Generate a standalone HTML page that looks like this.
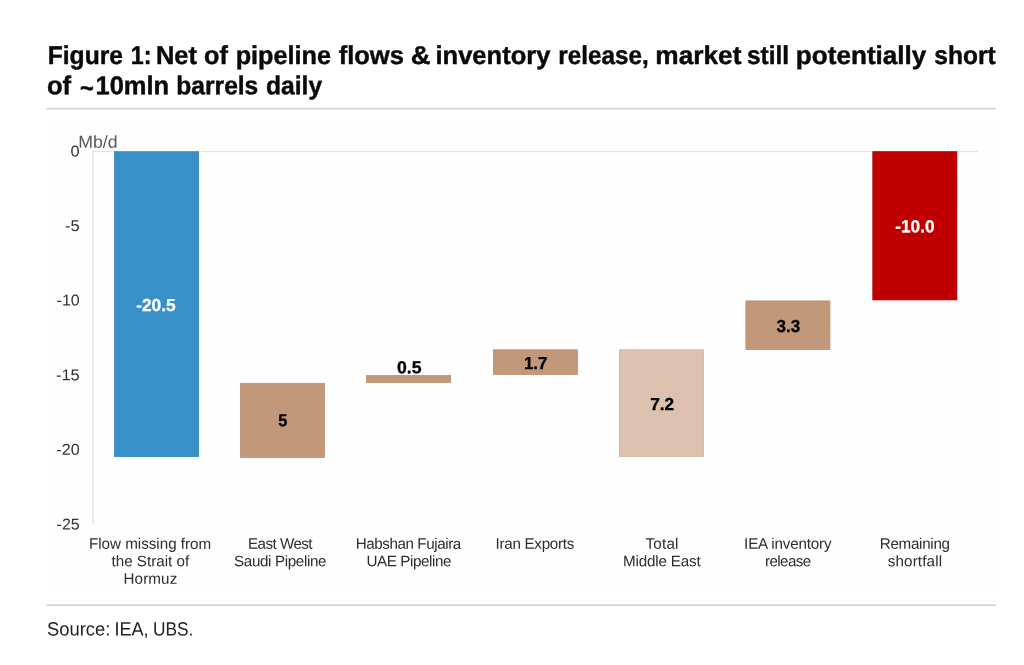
<!DOCTYPE html>
<html lang="en"><head><meta charset="utf-8"><title>Figure 1</title>
<style>html,body{margin:0;padding:0;background:#fff}svg{display:block}text{font-family:'Liberation Sans',sans-serif;white-space:pre}</style>
</head><body>
<svg width="1024" height="665" viewBox="0 0 1024 665">
<rect x="0" y="0" width="1024" height="665" fill="#ffffff"/>
<rect x="47" y="123.2" width="949" height="466.6" fill="#fefefe"/>
<rect x="46.3" y="107.85" width="949.7" height="1.6" fill="#d1d1d1"/>
<rect x="46.3" y="604.45" width="949.7" height="1.6" fill="#d1d1d1"/>
<rect x="92.2" y="151.05" width="885.8" height="1.1" fill="#e4e4e4"/>
<rect x="92.2" y="151.1" width="1.5" height="373.6" fill="#e4e4e4"/>
<rect x="114.40" y="151.70" width="84.10" height="304.90" fill="#3791c8" stroke="#3488ba" stroke-width="0.8"/>
<rect x="240.50" y="383.30" width="84.00" height="74.20" fill="#c1997a" stroke="#b78f71" stroke-width="0.8"/>
<rect x="366.50" y="375.50" width="84.10" height="7.00" fill="#c1997a" stroke="#b78f71" stroke-width="0.8"/>
<rect x="493.40" y="349.80" width="84.10" height="24.70" fill="#c1997a" stroke="#b78f71" stroke-width="0.8"/>
<rect x="619.50" y="349.80" width="84.00" height="106.70" fill="#dbc1ae" stroke="#d0b5a1" stroke-width="0.8"/>
<rect x="745.90" y="300.90" width="84.00" height="48.60" fill="#c1997a" stroke="#b78f71" stroke-width="0.8"/>
<rect x="872.80" y="151.70" width="84.10" height="148.20" fill="#c00000" stroke="#b60000" stroke-width="0.8"/>
<text transform="matrix(0.9555,0.0008,0,1,47.69,64.00)" font-size="25.8" font-weight="bold" fill="#0a0a0a" stroke="#0a0a0a" stroke-width="0.45" stroke-linejoin="round">Figure </text>
<text transform="matrix(0.9013,0.0008,0,1,130.74,64.00)" font-size="25.8" font-weight="bold" fill="#0a0a0a" stroke="#0a0a0a" stroke-width="0.45" stroke-linejoin="round">1: </text>
<text transform="matrix(0.9892,0.0008,0,1,155.94,64.00)" font-size="25.8" font-weight="bold" fill="#0a0a0a" stroke="#0a0a0a" stroke-width="0.45" stroke-linejoin="round">Net </text>
<text transform="matrix(0.9787,0.0008,0,1,204.06,64.00)" font-size="25.8" font-weight="bold" fill="#0a0a0a" stroke="#0a0a0a" stroke-width="0.45" stroke-linejoin="round">of </text>
<text transform="matrix(0.9796,0.0008,0,1,235.68,64.00)" font-size="25.8" font-weight="bold" fill="#0a0a0a" stroke="#0a0a0a" stroke-width="0.45" stroke-linejoin="round">pipeline </text>
<text transform="matrix(0.9913,0.0008,0,1,338.63,64.00)" font-size="25.8" font-weight="bold" fill="#0a0a0a" stroke="#0a0a0a" stroke-width="0.45" stroke-linejoin="round">flows </text>
<text transform="matrix(1.0574,0.0008,0,1,410.76,64.00)" font-size="25.8" font-weight="bold" fill="#0a0a0a" stroke="#0a0a0a" stroke-width="0.45" stroke-linejoin="round">&amp; </text>
<text transform="matrix(0.9896,0.0008,0,1,435.49,64.00)" font-size="25.8" font-weight="bold" fill="#0a0a0a" stroke="#0a0a0a" stroke-width="0.45" stroke-linejoin="round">inventory </text>
<text transform="matrix(0.9410,0.0008,0,1,558.30,64.00)" font-size="25.8" font-weight="bold" fill="#0a0a0a" stroke="#0a0a0a" stroke-width="0.45" stroke-linejoin="round">release, </text>
<text transform="matrix(1.0182,0.0008,0,1,655.29,64.00)" font-size="25.8" font-weight="bold" fill="#0a0a0a" stroke="#0a0a0a" stroke-width="0.45" stroke-linejoin="round">market </text>
<text transform="matrix(0.9483,0.0008,0,1,746.89,64.00)" font-size="25.8" font-weight="bold" fill="#0a0a0a" stroke="#0a0a0a" stroke-width="0.45" stroke-linejoin="round">still </text>
<text transform="matrix(1.0121,0.0008,0,1,795.86,64.00)" font-size="25.8" font-weight="bold" fill="#0a0a0a" stroke="#0a0a0a" stroke-width="0.45" stroke-linejoin="round">potentially </text>
<text transform="matrix(0.9510,0.0008,0,1,934.33,64.00)" font-size="25.8" font-weight="bold" fill="#0a0a0a" stroke="#0a0a0a" stroke-width="0.45" stroke-linejoin="round">short </text>
<text transform="matrix(0.9958,0.0008,0,1,46.90,94.20)" font-size="25.8" font-weight="bold" fill="#0a0a0a" stroke="#0a0a0a" stroke-width="0.45" stroke-linejoin="round">of </text>
<text transform="matrix(0.9175,0.0008,0,1,79.94,96.70)" font-size="25.8" font-weight="bold" fill="#0a0a0a" stroke="#0a0a0a" stroke-width="0.45" stroke-linejoin="round">~ </text>
<text transform="matrix(0.9889,0.0008,0,1,95.49,94.20)" font-size="25.8" font-weight="bold" fill="#0a0a0a" stroke="#0a0a0a" stroke-width="0.45" stroke-linejoin="round">10mln </text>
<text transform="matrix(0.9527,0.0008,0,1,176.33,94.20)" font-size="25.8" font-weight="bold" fill="#0a0a0a" stroke="#0a0a0a" stroke-width="0.45" stroke-linejoin="round">barrels </text>
<text transform="matrix(0.9553,0.0008,0,1,265.95,94.20)" font-size="25.8" font-weight="bold" fill="#0a0a0a" stroke="#0a0a0a" stroke-width="0.45" stroke-linejoin="round">daily </text>
<text transform="matrix(0.9579,0.0008,0,1,47.01,635.50)" font-size="19.2" fill="#222">Source: </text>
<text transform="matrix(0.9436,0.0008,0,1,114.40,635.50)" font-size="19.2" fill="#222">IEA, </text>
<text transform="matrix(0.9027,0.0008,0,1,152.94,635.50)" font-size="19.2" fill="#222">UBS. </text>
<text transform="matrix(1.0414,0.0008,0,1,70.50,156.40)" font-size="15.7" fill="#333">0</text>
<text transform="matrix(1.0533,0.0008,0,1,65.05,231.00)" font-size="15.7" fill="#333">-5</text>
<text transform="matrix(1.0275,0.0008,0,1,56.54,305.60)" font-size="15.7" fill="#333">-10</text>
<text transform="matrix(1.0533,0.0008,0,1,55.88,380.20)" font-size="15.7" fill="#333">-15</text>
<text transform="matrix(1.0287,0.0008,0,1,56.29,454.80)" font-size="15.7" fill="#333">-20</text>
<text transform="matrix(1.0206,0.0008,0,1,56.57,529.40)" font-size="15.7" fill="#333">-25</text>
<text transform="matrix(1.0197,0.0008,0,1,78.19,147.80)" font-size="17.4" fill="#585858">Mb/d</text>
<text transform="matrix(1.0000,0.0008,0,1,88.97,548.80)" font-size="15.2" fill="#2d2d2d" letter-spacing="-0.011">Flow missing from</text>
<text transform="matrix(1.0000,0.0008,0,1,111.52,566.30)" font-size="15.2" fill="#2d2d2d" letter-spacing="0.001">the Strait of</text>
<text transform="matrix(1.0000,0.0008,0,1,123.50,583.80)" font-size="15.2" fill="#2d2d2d" letter-spacing="0.121">Hormuz</text>
<text transform="matrix(1.0000,0.0008,0,1,247.97,548.80)" font-size="15.2" fill="#2d2d2d" letter-spacing="-0.540">East West</text>
<text transform="matrix(1.0000,0.0008,0,1,234.08,566.30)" font-size="15.2" fill="#2d2d2d" letter-spacing="-0.360">Saudi Pipeline</text>
<text transform="matrix(1.0000,0.0008,0,1,355.73,548.80)" font-size="15.2" fill="#2d2d2d" letter-spacing="-0.422">Habshan Fujaira</text>
<text transform="matrix(1.0000,0.0008,0,1,366.48,566.30)" font-size="15.2" fill="#2d2d2d" letter-spacing="-0.415">UAE Pipeline</text>
<text transform="matrix(1.0000,0.0008,0,1,495.58,548.80)" font-size="15.2" fill="#2d2d2d" letter-spacing="-0.290">Iran Exports</text>
<text transform="matrix(1.0000,0.0008,0,1,645.56,548.80)" font-size="15.2" fill="#2d2d2d" letter-spacing="0.193">Total</text>
<text transform="matrix(1.0000,0.0008,0,1,622.96,566.30)" font-size="15.2" fill="#2d2d2d" letter-spacing="-0.158">Middle East</text>
<text transform="matrix(1.0000,0.0008,0,1,744.09,548.80)" font-size="15.2" fill="#2d2d2d" letter-spacing="-0.170">IEA inventory</text>
<text transform="matrix(1.0000,0.0008,0,1,765.02,566.30)" font-size="15.2" fill="#2d2d2d" letter-spacing="-0.605">release</text>
<text transform="matrix(1.0000,0.0008,0,1,879.73,548.80)" font-size="15.2" fill="#2d2d2d" letter-spacing="-0.288">Remaining</text>
<text transform="matrix(1.0000,0.0008,0,1,887.69,566.30)" font-size="15.2" fill="#2d2d2d" letter-spacing="0.155">shortfall</text>
<text transform="matrix(0.9966,0.0008,0,1,136.21,311.00)" font-size="17.4" font-weight="bold" fill="#fff" stroke="#fff" stroke-width="0.3" stroke-linejoin="round">-20.5</text>
<text transform="matrix(0.9387,0.0008,0,1,278.17,426.30)" font-size="17.4" font-weight="bold" fill="#000" stroke="#000" stroke-width="0.3" stroke-linejoin="round">5</text>
<text transform="matrix(1.0182,0.0008,0,1,396.97,373.30)" font-size="17.4" font-weight="bold" fill="#000" stroke="#000" stroke-width="0.3" stroke-linejoin="round">0.5</text>
<text transform="matrix(0.9702,0.0008,0,1,523.92,368.90)" font-size="17.4" font-weight="bold" fill="#000" stroke="#000" stroke-width="0.3" stroke-linejoin="round">1.7</text>
<text transform="matrix(0.9921,0.0008,0,1,650.19,410.00)" font-size="17.4" font-weight="bold" fill="#000" stroke="#000" stroke-width="0.3" stroke-linejoin="round">7.2</text>
<text transform="matrix(0.9800,0.0008,0,1,776.51,332.10)" font-size="17.4" font-weight="bold" fill="#000" stroke="#000" stroke-width="0.3" stroke-linejoin="round">3.3</text>
<text transform="matrix(0.9920,0.0008,0,1,895.23,232.20)" font-size="17.4" font-weight="bold" fill="#fff" stroke="#fff" stroke-width="0.3" stroke-linejoin="round">-10.0</text>
</svg>
</body></html>
